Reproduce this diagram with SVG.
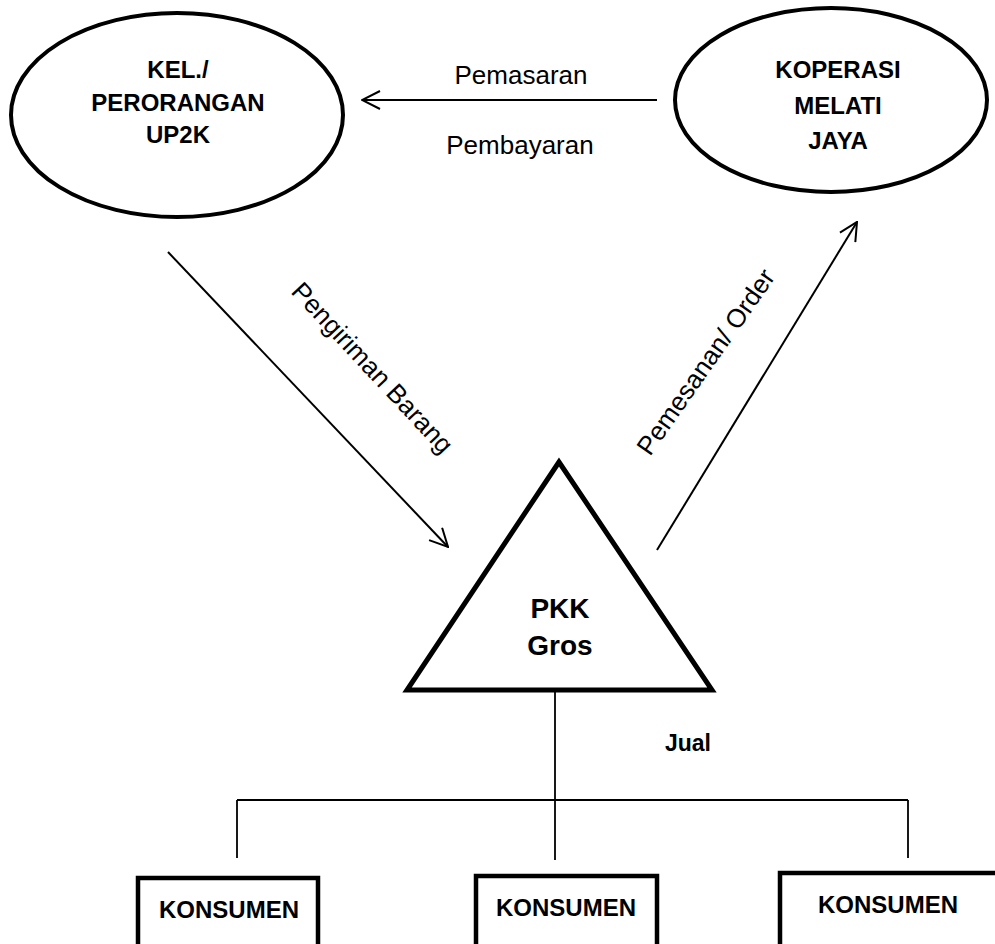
<svg xmlns="http://www.w3.org/2000/svg" width="995" height="944" viewBox="0 0 995 944">
<style>
.node{fill:#fff;stroke:#000;}
.b{font-family:"Liberation Sans",Arial,sans-serif;font-weight:bold;fill:#000;text-anchor:middle;}
.r{font-family:"Liberation Sans",Arial,sans-serif;fill:#000;text-anchor:middle;font-size:26px;}
.ln{stroke:#000;fill:none;stroke-width:2;}
.tr{stroke:#000;fill:none;stroke-width:1.8;}
</style>
<defs>
<marker id="ah" viewBox="0 0 20 20" refX="19" refY="10" markerWidth="20" markerHeight="20" markerUnits="userSpaceOnUse" orient="auto">
<path d="M1,1 L19,10 L1,19" fill="none" stroke="#000" stroke-width="2"/>
</marker>
</defs>
<rect width="995" height="944" fill="#fff"/>
<g id="connectors">
<line class="ln" x1="657" y1="100" x2="362" y2="100" marker-end="url(#ah)"/>
<line class="ln" x1="168" y1="252" x2="448" y2="547" marker-end="url(#ah)"/>
<line class="ln" x1="657" y1="550" x2="857" y2="222" marker-end="url(#ah)"/>
<path class="tr" d="M555,690 V860 M237,800 H908 M237,800 V858 M908,800 V858"/>
<text class="r" x="521" y="84">Pemasaran</text>
<text class="r" x="520" y="154">Pembayaran</text>
<text class="r" transform="translate(366,374) rotate(47)">Pengiriman Barang</text>
<text class="r" transform="translate(713,367) rotate(-55)">Pemesanan/ Order</text>
<text class="b" x="688" y="751" font-size="23">Jual</text>
</g>
<g id="kel">
<ellipse class="node" cx="177" cy="115" rx="166" ry="102" stroke-width="4"/>
<text class="b" font-size="24" x="178" y="78">KEL./</text>
<text class="b" font-size="24" x="178" y="111">PERORANGAN</text>
<text class="b" font-size="24" x="178" y="143">UP2K</text>
</g>
<g id="koperasi">
<ellipse class="node" cx="831" cy="100" rx="156" ry="92" stroke-width="4"/>
<text class="b" font-size="24" x="838" y="78">KOPERASI</text>
<text class="b" font-size="24" x="838" y="114">MELATI</text>
<text class="b" font-size="24" x="838" y="149">JAYA</text>
</g>
<g id="pkk">
<polygon class="node" points="559,462 407,690 712,690" stroke-width="5"/>
<text class="b" font-size="28" x="560" y="618">PKK</text>
<text class="b" font-size="28" x="560" y="655">Gros</text>
</g>
<g id="konsumen1">
<rect class="node" x="138" y="878" width="180" height="80" stroke-width="4.5"/>
<text class="b" font-size="24" x="229" y="918">KONSUMEN</text>
</g>
<g id="konsumen2">
<rect class="node" x="476" y="876" width="181" height="80" stroke-width="4.5"/>
<text class="b" font-size="24" x="566" y="916">KONSUMEN</text>
</g>
<g id="konsumen3">
<rect class="node" x="780" y="873" width="240" height="80" stroke-width="4.5"/>
<text class="b" font-size="24" x="888" y="913">KONSUMEN</text>
</g>
</svg>
